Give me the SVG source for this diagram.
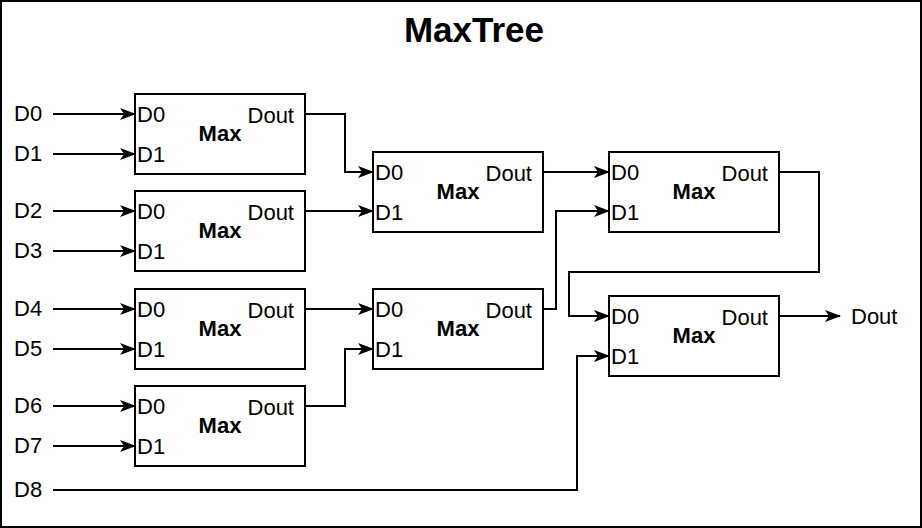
<svg xmlns="http://www.w3.org/2000/svg" width="922" height="528" viewBox="0 0 922 528">
<style>
text{font-family:"Liberation Sans",Arial,sans-serif;font-size:22px;fill:#000}
.t{font-size:35px;font-weight:bold;text-anchor:middle}
.m{font-weight:bold;text-anchor:middle}
.r{text-anchor:end}
.box{fill:#fff;stroke:#000;stroke-width:2}
.c{fill:none;stroke:#000;stroke-width:2}
.a{marker-end:url(#arr)}
</style>
<defs>
<marker id="arr" markerUnits="userSpaceOnUse" viewBox="0 0 16 12" refX="15" refY="6" markerWidth="16" markerHeight="12" orient="auto">
<path d="M0,0 L16,6 L0,12 L4,6 Z" fill="#000"/>
</marker>
</defs>
<rect x="1" y="1" width="920" height="526" fill="#fff" stroke="#000" stroke-width="2"/>
<text class="t" x="474" y="42">MaxTree</text>

<g id="inputs">
<text x="14" y="121">D0</text>
<text x="14" y="161">D1</text>
<text x="14" y="218">D2</text>
<text x="14" y="258">D3</text>
<text x="14" y="316">D4</text>
<text x="14" y="356">D5</text>
<text x="14" y="413">D6</text>
<text x="14" y="453">D7</text>
<text x="14" y="497">D8</text>
</g>

<g id="connectors">
<path class="c a" d="M53,114 H135"/>
<path class="c a" d="M53,154 H135"/>
<path class="c a" d="M53,211 H135"/>
<path class="c a" d="M53,251 H135"/>
<path class="c a" d="M53,309 H135"/>
<path class="c a" d="M53,349 H135"/>
<path class="c a" d="M53,406 H135"/>
<path class="c a" d="M53,446 H135"/>
<path class="c a" d="M305,114 H345 V172 H373"/>
<path class="c a" d="M305,211 H373"/>
<path class="c a" d="M305,309 H373"/>
<path class="c a" d="M305,406 H345 V349 H373"/>
<path class="c a" d="M543,172 H609"/>
<path class="c a" d="M543,309 H556 V211 H609"/>
<path class="c a" d="M779,172 H819 V272 H569 V316 H609"/>
<path class="c a" d="M53,490 H577 V356 H609"/>
<path class="c a" d="M779,316 H840"/>
</g>

<g id="maxA1">
<rect class="box" x="135" y="94" width="170" height="80"/>
<text x="137" y="122">D0</text><text x="137" y="162">D1</text>
<text class="r" x="294" y="123">Dout</text><text class="m" x="220" y="141">Max</text>
</g>
<g id="maxA2">
<rect class="box" x="135" y="191" width="170" height="80"/>
<text x="137" y="219">D0</text><text x="137" y="259">D1</text>
<text class="r" x="294" y="220">Dout</text><text class="m" x="220" y="238">Max</text>
</g>
<g id="maxA3">
<rect class="box" x="135" y="289" width="170" height="80"/>
<text x="137" y="317">D0</text><text x="137" y="357">D1</text>
<text class="r" x="294" y="318">Dout</text><text class="m" x="220" y="336">Max</text>
</g>
<g id="maxA4">
<rect class="box" x="135" y="386" width="170" height="80"/>
<text x="137" y="414">D0</text><text x="137" y="454">D1</text>
<text class="r" x="294" y="415">Dout</text><text class="m" x="220" y="433">Max</text>
</g>
<g id="maxB1">
<rect class="box" x="373" y="152" width="170" height="80"/>
<text x="375" y="180">D0</text><text x="375" y="220">D1</text>
<text class="r" x="532" y="181">Dout</text><text class="m" x="458" y="199">Max</text>
</g>
<g id="maxB2">
<rect class="box" x="373" y="289" width="170" height="80"/>
<text x="375" y="317">D0</text><text x="375" y="357">D1</text>
<text class="r" x="532" y="318">Dout</text><text class="m" x="458" y="336">Max</text>
</g>
<g id="maxC1">
<rect class="box" x="609" y="152" width="170" height="80"/>
<text x="611" y="180">D0</text><text x="611" y="220">D1</text>
<text class="r" x="768" y="181">Dout</text><text class="m" x="694" y="199">Max</text>
</g>
<g id="maxC2">
<rect class="box" x="609" y="296" width="170" height="80"/>
<text x="611" y="324">D0</text><text x="611" y="364">D1</text>
<text class="r" x="768" y="325">Dout</text><text class="m" x="694" y="343">Max</text>
</g>
<g id="out">
<text x="851" y="324">Dout</text>
</g>
</svg>
